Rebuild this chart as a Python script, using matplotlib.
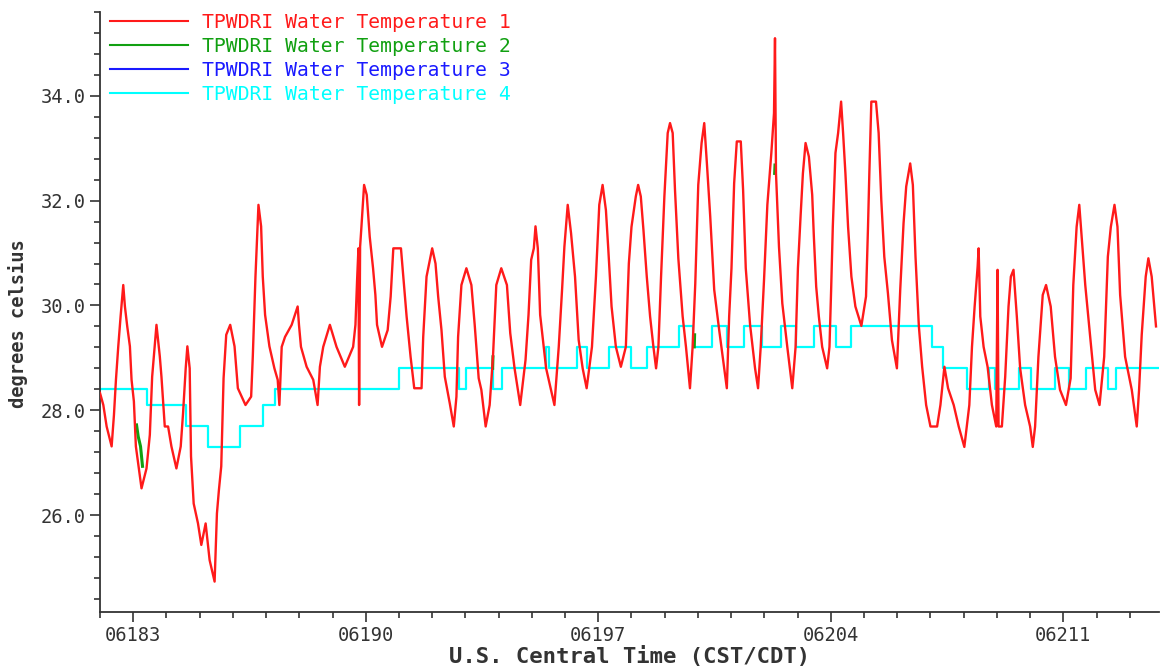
import matplotlib
matplotlib.use('Agg')
import matplotlib.pyplot as plt
from matplotlib.ticker import FixedLocator, MultipleLocator, FormatStrFormatter

# Water temperature 1 (red), vertices: day-of-year (2006), deg C
red_day = [
    6182.00, 6182.10, 6182.20, 6182.35, 6182.42, 6182.48, 6182.55, 6182.62, 6182.70, 6182.75,
    6182.82, 6182.90, 6182.95, 6183.02, 6183.08, 6183.25, 6183.40, 6183.50, 6183.57, 6183.62,
    6183.70, 6183.80, 6183.85, 6183.95, 6184.05, 6184.15, 6184.30, 6184.43, 6184.50, 6184.58,
    6184.63, 6184.70, 6184.74, 6184.82, 6184.95, 6185.05, 6185.18, 6185.30, 6185.45, 6185.52,
    6185.58, 6185.65, 6185.72, 6185.80, 6185.92, 6186.05, 6186.15, 6186.38, 6186.55, 6186.60,
    6186.68, 6186.77, 6186.85, 6186.90, 6186.97, 6187.10, 6187.25, 6187.35, 6187.40,
    6187.47, 6187.57, 6187.77, 6187.95, 6187.99, 6188.05, 6188.22, 6188.42, 6188.55, 6188.62,
    6188.72, 6188.92, 6189.12, 6189.37, 6189.62, 6189.69, 6189.74, 6189.78, 6189.80, 6189.83,
    6189.87, 6189.95, 6190.03, 6190.12, 6190.22, 6190.29, 6190.34, 6190.49, 6190.66, 6190.75,
    6190.83, 6191.06, 6191.14, 6191.23, 6191.35, 6191.46, 6191.68, 6191.73, 6191.83, 6192.00,
    6192.10, 6192.18, 6192.28, 6192.38, 6192.53, 6192.65,
    6192.73, 6192.78, 6192.88, 6193.03, 6193.18, 6193.28, 6193.40, 6193.48, 6193.61, 6193.73,
    6193.83, 6193.93, 6194.08, 6194.25, 6194.35, 6194.48, 6194.65, 6194.81, 6194.90, 6194.98,
    6195.06, 6195.11, 6195.18, 6195.25, 6195.43, 6195.68, 6195.81, 6195.91, 6195.98, 6196.08,
    6196.18, 6196.30, 6196.41, 6196.53, 6196.65, 6196.81, 6196.93, 6197.03, 6197.13, 6197.23,
    6197.30, 6197.40, 6197.53, 6197.68, 6197.83,
    6197.92, 6198.00, 6198.13, 6198.20, 6198.28, 6198.36, 6198.46, 6198.56, 6198.66, 6198.74,
    6198.81, 6198.89, 6198.99, 6199.09, 6199.16, 6199.24, 6199.31, 6199.41, 6199.54, 6199.64,
    6199.76, 6199.84, 6199.92, 6200.01, 6200.11, 6200.19, 6200.27, 6200.37, 6200.49, 6200.64,
    6200.79, 6200.87, 6200.94, 6201.01, 6201.09, 6201.17, 6201.29, 6201.36, 6201.44, 6201.57,
    6201.72, 6201.81, 6201.89, 6201.99, 6202.09, 6202.21, 6202.29, 6202.32, 6202.35, 6202.44,
    6202.54, 6202.69, 6202.84, 6202.94, 6203.01, 6203.09,
    6203.16, 6203.24, 6203.34, 6203.44, 6203.49, 6203.56, 6203.64, 6203.74, 6203.89, 6203.96,
    6204.01, 6204.06, 6204.14, 6204.22, 6204.31, 6204.37, 6204.44, 6204.52, 6204.62, 6204.74,
    6204.92, 6205.06, 6205.12, 6205.16, 6205.22, 6205.36, 6205.44, 6205.52, 6205.61, 6205.72,
    6205.84, 6205.99, 6206.09, 6206.19, 6206.27, 6206.39, 6206.47, 6206.55, 6206.65, 6206.75,
    6206.87, 6207.00, 6207.20, 6207.30, 6207.42, 6207.53, 6207.70, 6207.85, 6208.02, 6208.17,
    6208.25, 6208.33,
    6208.42, 6208.45, 6208.50, 6208.60, 6208.72, 6208.85, 6208.98, 6209.02, 6209.05, 6209.15,
    6209.25, 6209.35, 6209.42, 6209.50, 6209.60, 6209.70, 6209.85, 6210.00, 6210.08, 6210.15,
    6210.25, 6210.38, 6210.48, 6210.62, 6210.75, 6210.90, 6211.08, 6211.22, 6211.30, 6211.40,
    6211.48, 6211.56, 6211.66, 6211.81, 6211.96, 6212.09, 6212.23, 6212.34, 6212.43, 6212.54,
    6212.63, 6212.71, 6212.86, 6213.06, 6213.21, 6213.28, 6213.36, 6213.48, 6213.56, 6213.66,
    6213.79,
]
red_temp = [
    28.33, 28.10, 27.69, 27.31, 27.91, 28.58, 29.22, 29.79, 30.39, 29.98,
    29.60, 29.22, 28.58, 28.17, 27.31, 26.51, 26.89, 27.53, 28.64, 29.03,
    29.63, 29.03, 28.64, 27.69, 27.69, 27.31, 26.89, 27.31, 27.94, 28.80,
    29.22, 28.80, 27.12, 26.22, 25.84, 25.43, 25.84, 25.14, 24.73, 26.03,
    26.48, 26.93, 28.61, 29.44, 29.63, 29.22, 28.42, 28.10, 28.26, 29.03,
    30.55, 31.92, 31.51, 30.55, 29.82, 29.22, 28.80, 28.58, 28.10,
    29.21, 29.40, 29.63, 29.98, 29.63, 29.21, 28.83, 28.58, 28.10, 28.83,
    29.21, 29.63, 29.21, 28.83, 29.21, 29.63, 30.49, 31.09, 28.10, 31.12,
    31.50, 32.30, 32.11, 31.31, 30.71, 30.20, 29.63, 29.21, 29.53, 30.17,
    31.09, 31.09, 30.49, 29.79, 29.02, 28.42, 28.42, 29.40, 30.55, 31.09,
    30.80, 30.17, 29.53, 28.64, 28.13, 27.69,
    28.26, 29.40, 30.39, 30.71, 30.39, 29.63, 28.61, 28.39, 27.69, 28.10,
    29.02, 30.39, 30.71, 30.39, 29.47, 28.80, 28.10, 28.96, 29.82, 30.87,
    31.09, 31.51, 31.09, 29.82, 28.80, 28.10, 29.21, 30.30, 31.12, 31.92,
    31.38, 30.55, 29.34, 28.80, 28.42, 29.21, 30.55, 31.92, 32.30, 31.82,
    31.09, 29.98, 29.21, 28.83, 29.21,
    30.80, 31.50, 32.08, 32.30, 32.08, 31.44, 30.55, 29.79, 29.21, 28.80,
    29.21, 30.55, 32.08, 33.29, 33.48, 33.29, 32.20, 30.90, 29.79, 29.21,
    28.42, 29.21, 30.42, 32.30, 33.10, 33.48, 32.71, 31.70, 30.30, 29.53,
    28.80, 28.42, 29.79, 30.71, 32.33, 33.13, 33.13, 32.20, 30.71, 29.63,
    28.80, 28.42, 29.21, 30.49, 31.92, 32.91, 33.67, 35.10, 32.52, 31.12,
    30.04, 29.21, 28.42, 29.21, 30.71, 31.70,
    32.52, 33.10, 32.84, 32.11, 31.31, 30.36, 29.79, 29.21, 28.80, 29.21,
    30.30, 31.50, 32.91, 33.29, 33.89, 33.29, 32.52, 31.50, 30.55, 29.98,
    29.61, 30.17, 31.50, 32.52, 33.89, 33.89, 33.29, 32.01, 30.93, 30.23,
    29.34, 28.80, 30.30, 31.57, 32.27, 32.71, 32.30, 30.93, 29.61, 28.83,
    28.10, 27.69, 27.69, 28.10, 28.83, 28.42, 28.10, 27.69, 27.30, 28.10,
    29.21, 29.98,
    30.74, 31.09, 29.79, 29.21, 28.83, 28.10, 27.69, 30.68, 27.69, 27.69,
    28.64, 29.98, 30.55, 30.68, 29.79, 28.80, 28.10, 27.69, 27.30, 27.69,
    29.02, 30.20, 30.39, 29.98, 29.02, 28.39, 28.10, 28.61, 30.39, 31.50,
    31.92, 31.25, 30.39, 29.40, 28.39, 28.10, 29.02, 30.93, 31.50, 31.92,
    31.50, 30.20, 29.02, 28.39, 27.69, 28.39, 29.44, 30.55, 30.90, 30.55,
    29.60,
]

# Water temperature 2 (green): only the short stretches that show beside the red line
green_day = [6183.10, 6183.15, 6183.22, 6183.28, None, 6193.82, 6193.83, None,
             6199.89, 6199.90, None, 6202.31, 6202.32]
green_temp = [27.72, 27.50, 27.31, 26.93, None, 28.80, 29.02, None,
              29.21, 29.44, None, 32.52, 32.68]

# Water temperature 4 (cyan): step changes, value holds until the next day listed
cyan_day = [
    6182.00, 6183.42, 6184.59, 6185.25, 6186.22, 6186.91, 6187.27, 6190.99, 6192.80, 6193.01,
    6193.82, 6194.09, 6195.44, 6195.53, 6196.37, 6196.67, 6197.33, 6197.99, 6198.47, 6199.44,
    6199.86, 6200.43, 6200.88, 6201.39, 6201.93, 6202.50, 6202.95, 6203.49, 6204.15, 6204.60,
    6207.04, 6207.37, 6208.09, 6208.75, 6208.93, 6209.68, 6210.04, 6210.76, 6211.16, 6211.67,
    6212.33, 6212.60, 6213.88,
]
cyan_temp = [
    28.4, 28.1, 27.7, 27.3, 27.7, 28.1, 28.4, 28.8, 28.4, 28.8,
    28.4, 28.8, 29.2, 28.8, 29.2, 28.8, 29.2, 28.8, 29.2, 29.6,
    29.2, 29.6, 29.2, 29.6, 29.2, 29.6, 29.2, 29.6, 29.2, 29.6,
    29.2, 28.8, 28.4, 28.8, 28.4, 28.8, 28.4, 28.8, 28.4, 28.8,
    28.4, 28.8, 28.8,
]

series_labels = ['TPWDRI Water Temperature 1', 'TPWDRI Water Temperature 2',
                 'TPWDRI Water Temperature 3', 'TPWDRI Water Temperature 4']
x_ticks = [6183, 6190, 6197, 6204, 6211]
x_tick_labels = ['06183', '06190', '06197', '06204', '06211']
y_ticks = [26.0, 28.0, 30.0, 32.0, 34.0]

mono = 'DejaVu Sans Mono'
ink = '#333333'

fig = plt.figure(figsize=(11.65, 6.71), dpi=100)
ax = fig.add_axes([100 / 1165, 1 - 612 / 671, 1059 / 1165, 600 / 671])

green = [float('nan') if v is None else v for v in green_day]
greent = [float('nan') if v is None else v for v in green_temp]

ax.plot(cyan_day, cyan_temp, color='#00ffff', lw=1.6, drawstyle='steps-post',
        label=series_labels[3], zorder=2)
ax.plot(green, greent, color='#11a011', lw=2.2, label=series_labels[1], zorder=3)
ax.plot([], [], color='#1a1aff', lw=1.6, label=series_labels[2])
ax.plot(red_day, red_temp, color='#ff1a1a', lw=1.7, label=series_labels[0], zorder=4)

ax.set_xlim(6182.0, 6213.88)
ax.set_ylim(24.15, 35.6)

# Axes: only left and bottom lines, ticks pointing out
for side in ['top', 'right']:
    ax.spines[side].set_visible(False)
for side in ['left', 'bottom']:
    ax.spines[side].set_color(ink)
    ax.spines[side].set_linewidth(1.3)

ax.xaxis.set_major_locator(FixedLocator(x_ticks))
ax.set_xticklabels(x_tick_labels)
ax.xaxis.set_minor_locator(MultipleLocator(1))
ax.yaxis.set_major_locator(FixedLocator(y_ticks))
ax.yaxis.set_major_formatter(FormatStrFormatter('%.1f'))
ax.yaxis.set_minor_locator(MultipleLocator(0.4))

ax.tick_params(which='major', direction='out', length=7, width=1.2, color=ink,
               labelsize=13.5, labelcolor=ink, pad=3)
ax.tick_params(which='minor', direction='out', length=4, width=1.2, color=ink)
for lab in ax.get_xticklabels() + ax.get_yticklabels():
    lab.set_family(mono)

ax.set_xlabel('U.S. Central Time (CST/CDT)', family=mono, fontweight='bold',
              fontsize=16, color=ink, labelpad=1)
ax.set_ylabel('degrees celsius', family=mono, fontweight='bold',
              fontsize=13.5, color=ink)
ax.yaxis.set_label_coords(-0.068, 0.48)

h, l = ax.get_legend_handles_labels()
by_label = dict(zip(l, h))
leg = ax.legend([by_label[s] for s in series_labels], series_labels,
                loc='upper left', bbox_to_anchor=(0.009, 0.998), frameon=False,
                borderpad=0, borderaxespad=0, handlelength=4.0, handletextpad=0.7,
                labelspacing=0.25, prop={'family': mono, 'size': 14.2},
                labelcolor='linecolor')
for line in leg.get_lines():
    line.set_linewidth(1.5)

fig.savefig('out.png', dpi=100, facecolor='white')
